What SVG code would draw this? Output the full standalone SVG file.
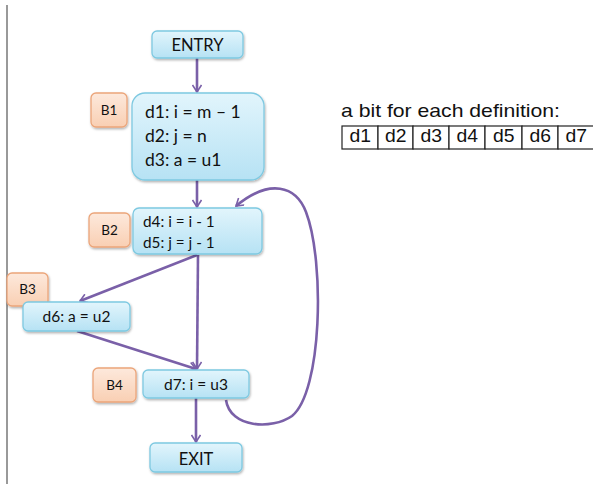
<svg xmlns="http://www.w3.org/2000/svg" width="593" height="499" viewBox="0 0 593 499">
<defs>
<linearGradient id="gb" x1="0" y1="0" x2="0" y2="1"><stop offset="0" stop-color="#e2f5fc"/><stop offset="1" stop-color="#b6e2f4"/></linearGradient>
<linearGradient id="go" x1="0" y1="0" x2="0" y2="1"><stop offset="0" stop-color="#fde9dc"/><stop offset="1" stop-color="#f9cfb3"/></linearGradient>
<filter id="sh" x="-10%" y="-10%" width="130%" height="140%"><feDropShadow dx="0.8" dy="1.5" stdDeviation="0.9" flood-color="#000" flood-opacity="0.3"/></filter>
<marker id="ah" viewBox="0 0 10 10" refX="9" refY="5" markerWidth="10" markerHeight="10" orient="auto" markerUnits="userSpaceOnUse"><path d="M2,0.5 L9,5 L2,9.5" fill="none" stroke="#7a60a8" stroke-width="1.6"/></marker>
<style>
.box{fill:url(#gb);stroke:#7ec9e1;stroke-width:1.3;filter:url(#sh)}
.lab{fill:url(#go);stroke:#eba57a;stroke-width:1.3;filter:url(#sh)}
.t{font-family:Lato,"Open Sans",sans-serif;fill:#111}
.e{fill:none;stroke:#7a60a8;stroke-width:2.6;marker-end:url(#ah)}
.tt{font-family:"Liberation Sans",Arial,sans-serif;fill:#111;font-size:18.5px}
.cell{fill:#fff;stroke:#222;stroke-width:1.2}
</style>
</defs>
<line x1="7" y1="5" x2="7" y2="484" stroke="#777" stroke-width="1.5"/>
<g id="connectors">
<path class="e" d="M197,58 L197,92"/>
<path class="e" d="M197,180 L197,207"/>
<path class="e" d="M197,255 L80,301"/>
<path class="e" d="M198,255 L197,369"/>
<path class="e" d="M77,331 L196,369"/>
<path class="e" d="M196,398 L196,442"/>
<path class="e" d="M226,400 C230,428 272,430 292,416 C322,392 325,262 306,212 C296,186 270,178 236,206"/>
</g>
<g id="entry"><rect class="box" x="152" y="31" width="91" height="27" rx="5"/><text class="t" x="197.5" y="51" font-size="16.5" text-anchor="middle">ENTRY</text></g>
<g id="b1-label"><rect class="lab" x="91" y="93" width="36" height="34" rx="5"/><text class="t" x="109" y="115" font-size="13.5" text-anchor="middle">B1</text></g>
<g id="b1"><rect class="box" x="132" y="93" width="132" height="87" rx="13"/>
<text class="t" x="145" y="118" font-size="17.5">d1: i = m – 1</text>
<text class="t" x="145" y="142" font-size="17.5">d2: j = n</text>
<text class="t" x="145" y="166" font-size="17.5">d3: a = u1</text></g>
<g id="b2-label"><rect class="lab" x="89" y="213" width="41" height="34" rx="5"/><text class="t" x="109.5" y="235" font-size="13.5" text-anchor="middle">B2</text></g>
<g id="b2"><rect class="box" x="133" y="208" width="129" height="46" rx="6"/>
<text class="t" x="143" y="227" font-size="15.3">d4: i = i - 1</text>
<text class="t" x="143" y="248" font-size="15.3">d5: j = j - 1</text></g>
<g id="b3-label"><rect class="lab" x="7" y="273" width="41" height="33" rx="5"/><text class="t" x="27.5" y="294" font-size="13.5" text-anchor="middle">B3</text></g>
<g id="b3"><rect class="box" x="23" y="302" width="107" height="29" rx="5"/><text class="t" x="76.5" y="322" font-size="15.5" text-anchor="middle">d6: a = u2</text></g>
<g id="b4-label"><rect class="lab" x="93" y="368" width="43" height="34" rx="5"/><text class="t" x="114.5" y="390" font-size="13.5" text-anchor="middle">B4</text></g>
<g id="b4"><rect class="box" x="143" y="370" width="106" height="28" rx="5"/><text class="t" x="196" y="390" font-size="15.5" text-anchor="middle">d7: i = u3</text></g>
<g id="exit"><rect class="box" x="150" y="443" width="92" height="29" rx="5"/><text class="t" x="196" y="465" font-size="16.5" text-anchor="middle">EXIT</text></g>
<g id="bit-table">
<text class="tt" x="341" y="117" textLength="219" lengthAdjust="spacingAndGlyphs">a bit for each definition:</text>
<rect class="cell" x="342" y="126" width="36" height="23"/>
<rect class="cell" x="378" y="126" width="35" height="23"/>
<rect class="cell" x="413" y="126" width="36" height="23"/>
<rect class="cell" x="449" y="126" width="36" height="23"/>
<rect class="cell" x="485" y="126" width="37" height="23"/>
<rect class="cell" x="522" y="126" width="36" height="23"/>
<rect class="cell" x="558" y="126" width="37" height="23"/>
<text class="tt" x="349.5" y="142" textLength="21.5" lengthAdjust="spacingAndGlyphs">d1</text>
<text class="tt" x="385" y="142" textLength="21.5" lengthAdjust="spacingAndGlyphs">d2</text>
<text class="tt" x="420.5" y="142" textLength="21.5" lengthAdjust="spacingAndGlyphs">d3</text>
<text class="tt" x="456.5" y="142" textLength="21.5" lengthAdjust="spacingAndGlyphs">d4</text>
<text class="tt" x="493" y="142" textLength="21.5" lengthAdjust="spacingAndGlyphs">d5</text>
<text class="tt" x="529.5" y="142" textLength="21.5" lengthAdjust="spacingAndGlyphs">d6</text>
<text class="tt" x="565.5" y="142" textLength="21.5" lengthAdjust="spacingAndGlyphs">d7</text>
</g>
</svg>
